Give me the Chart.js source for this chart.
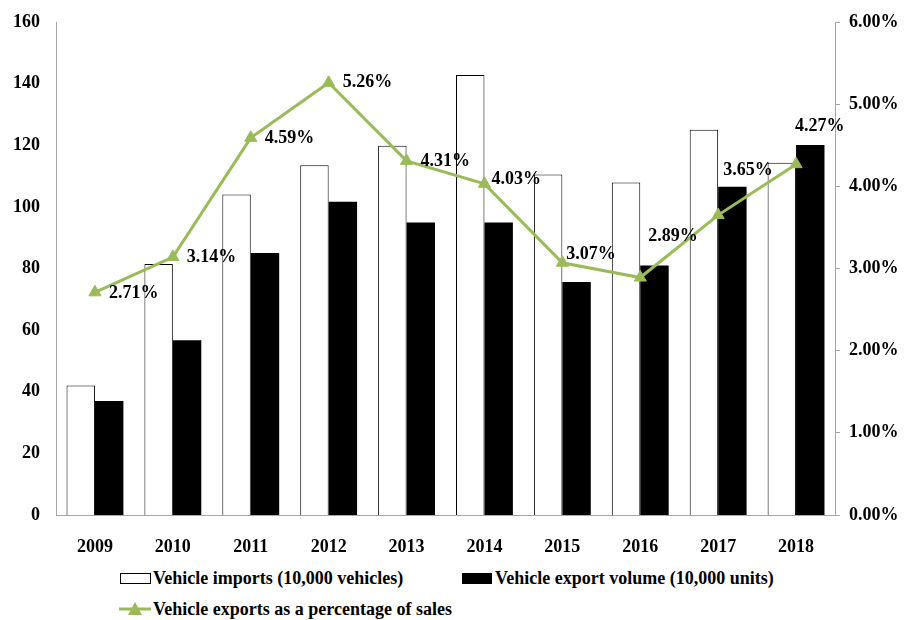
<!DOCTYPE html>
<html>
<head>
<meta charset="utf-8">
<script src="https://cdn.jsdelivr.net/npm/chart.js@4/dist/chart.umd.min.js"></script>
<style>
  body { margin: 0; background: #fff; }
  #wrap { position: relative; width: 910px; height: 620px; }
  #chart { position: absolute; left: 0; top: 0; }
  .leg { position: absolute; font: bold 18px "Liberation Serif", "Times New Roman", serif; color: #000; white-space: nowrap; line-height: 20px; }
  .box { position: absolute; width: 29px; height: 9px; }
</style>
</head>
<body>
<div id="wrap">
  <canvas id="chart" width="910" height="560"></canvas>
  <div class="box" style="left:120px;top:573px;border:1px solid #000;background:#fff;"></div>
  <div class="leg" style="left:153px;top:568px;">Vehicle imports (10,000 vehicles)</div>
  <div class="box" style="left:462px;top:573px;width:30px;height:11px;background:#000;"></div>
  <div class="leg" style="left:495px;top:568px;">Vehicle export volume (10,000 units)</div>
  <svg style="position:absolute;left:119px;top:601px;" width="32" height="16">
    <line x1="0" y1="8" x2="32" y2="8" stroke="#9bbb59" stroke-width="3"/>
    <polygon points="16,1 23,14 9,14" fill="#9bbb59"/>
  </svg>
  <div class="leg" style="left:153px;top:599px;">Vehicle exports as a percentage of sales</div>
</div>
<script>
const years = ['2009', '2010', '2011', '2012', '2013', '2014', '2015', '2016', '2017', '2018'];
const imports = [42, 81.5, 104, 113.5, 119.8, 142.8, 110.5, 107.9, 125, 114.3];
const exportVolume = [37, 56.7, 85, 101.7, 94.9, 94.9, 75.6, 81, 106.5, 120.1];
const exportShare = [2.71, 3.14, 4.59, 5.26, 4.31, 4.03, 3.07, 2.89, 3.65, 4.27];

const FONT = { family: '"Liberation Serif", "Times New Roman", serif', size: 18, weight: 'bold' };
const GREEN = '#9bbb59';
const AXIS = '#a6a6a6';

// label offsets from the point (dx, dy), left-aligned text
const labelOffsets = [[14, 1], [14, 0], [14, 0], [14, 0], [14, 0], [7, -5], [4, -8], [8, -41], [5, -45], [-1, -38]];

const lineLabels = {
  id: 'lineLabels',
  afterDatasetsDraw(chart) {
    const ctx = chart.ctx;
    const meta = chart.getDatasetMeta(0);
    ctx.save();
    ctx.font = `bold ${FONT.size}px ${FONT.family}`;
    ctx.fillStyle = '#000';
    ctx.textAlign = 'left';
    ctx.textBaseline = 'middle';
    meta.data.forEach((pt, i) => {
      const [dx, dy] = labelOffsets[i];
      ctx.fillText(exportShare[i].toFixed(2) + '%', pt.x + dx, pt.y + dy);
    });
    ctx.restore();
  }
};

new Chart(document.getElementById('chart'), {
  data: {
    labels: years,
    datasets: [
      {
        type: 'line',
        label: 'Vehicle exports as a percentage of sales',
        data: exportShare,
        yAxisID: 'y1',
        borderColor: GREEN,
        backgroundColor: GREEN,
        borderWidth: 3,
        pointStyle: 'triangle',
        pointRadius: 7,
        pointBorderWidth: 1,
        tension: 0,
        order: 0
      },
      {
        type: 'bar',
        label: 'Vehicle imports (10,000 vehicles)',
        data: imports,
        yAxisID: 'y',
        backgroundColor: '#fff',
        borderColor: '#000',
        borderWidth: 1,
        barPercentage: 1,
        categoryPercentage: 0.73,
        order: 1
      },
      {
        type: 'bar',
        label: 'Vehicle export volume (10,000 units)',
        data: exportVolume,
        yAxisID: 'y',
        backgroundColor: '#000',
        borderColor: '#000',
        borderWidth: 0,
        barPercentage: 1,
        categoryPercentage: 0.73,
        order: 1
      }
    ]
  },
  options: {
    responsive: false,
    animation: false,
    layout: { padding: { left: 10, right: 0, top: 22, bottom: 0 } },
    plugins: {
      legend: { display: false },
      tooltip: { enabled: false }
    },
    scales: {
      x: {
        offset: true,
        grid: { display: false },
        border: { display: true, color: AXIS, width: 1 },
        ticks: { color: '#000', font: FONT, padding: 14 },
        afterFit(scale) { scale.height = 45; }
      },
      y: {
        position: 'left',
        min: 0,
        max: 160,
        grid: { display: false },
        border: { display: true, color: AXIS, width: 1 },
        ticks: { stepSize: 20, color: '#000', font: FONT, padding: 8 },
        afterFit(scale) { scale.width = 46; }
      },
      y1: {
        position: 'right',
        min: 0,
        max: 6,
        grid: { drawOnChartArea: false, drawTicks: true, tickLength: 5, color: AXIS },
        border: { display: true, color: AXIS, width: 1 },
        ticks: { stepSize: 1, color: '#000', font: FONT, padding: 9, callback: v => v.toFixed(2) + '%' },
        afterFit(scale) { scale.width = 75; }
      }
    }
  },
  plugins: [lineLabels]
});
</script>
</body>
</html>
